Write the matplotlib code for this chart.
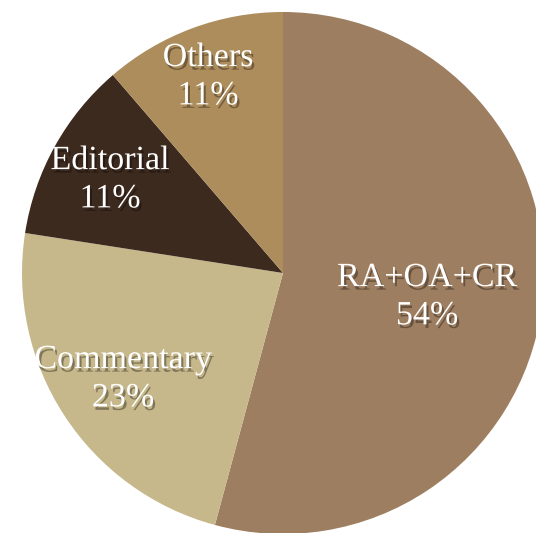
import matplotlib
matplotlib.use("Agg")
import matplotlib.pyplot as plt
import matplotlib.patheffects as pe

# ── Data ─────────────────────────────────────────────────────────────────────

categories = ["RA+OA+CR", "Commentary", "Editorial", "Others"]
shares     = [54.2, 23.25, 11.25, 11.3]      # wedge sizes
pct_labels = ["54%", "23%", "11%", "11%"]
colors     = ["#9e7e60", "#c6b88b", "#3d2a1e", "#ad8d5c"]

# ── Layout (pixel coords, origin top-left) ───────────────────────────────────

W, H      = 536, 533
CENTER    = (283, 273)
RADIUS    = 261
label_pos = [(427, 297), (123, 379), (110, 180), (208, 77)]

plt.rcParams["font.family"] = ["Liberation Serif", "DejaVu Serif"]

fig = plt.figure(figsize=(W / 100, H / 100), dpi=100)
ax  = fig.add_axes([0, 0, 1, 1])

ax.pie(
    shares,
    colors=colors,
    startangle=90,
    counterclock=False,
    center=(CENTER[0], H - CENTER[1]),
    radius=RADIUS,
    wedgeprops=dict(linewidth=0),
)
ax.set_xlim(0, W)
ax.set_ylim(0, H)
ax.set_aspect("auto")
ax.axis("off")

shadow = [pe.withSimplePatchShadow(offset=(1.5, -2.5), shadow_rgbFace="black", alpha=0.35)]
for name, pct, (x, y) in zip(categories, pct_labels, label_pos):
    ax.text(x, H - y, f"{name}\n{pct}", color="white", fontsize=24.5,
            ha="center", va="center", linespacing=1.33,
            path_effects=shadow)

fig.savefig("out.png", dpi=100, facecolor="white")
